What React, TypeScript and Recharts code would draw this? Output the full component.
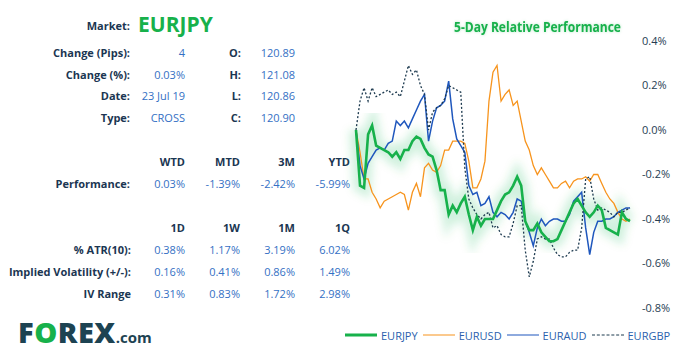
import { LineChart, Line, XAxis, YAxis } from "recharts";

// 5-day relative performance (%), sampled left to right
const EURJPY = [
  0, -0.25, -0.26, -0.02, 0.02, -0.07, -0.08, -0.09, -0.1, -0.12,
  -0.1, -0.13, -0.09, -0.09, -0.05, -0.03, -0.04, -0.08, -0.11, -0.12,
  -0.18, -0.27, -0.27, -0.38, -0.34, -0.37, -0.33, -0.3, -0.38, -0.45,
  -0.39, -0.43, -0.4, -0.4, -0.4, -0.36, -0.32, -0.29, -0.28, -0.25,
  -0.21, -0.25, -0.41, -0.45, -0.45, -0.42, -0.46, -0.48, -0.5, -0.5,
  -0.49, -0.45, -0.41, -0.37, -0.33, -0.31, -0.34, -0.37, -0.39, -0.37,
  -0.34, -0.36, -0.44, -0.45, -0.46, -0.47, -0.37, -0.4, -0.41,
];
const EURUSD = [
  0, -0.1, -0.22, -0.22, -0.28, -0.31, -0.35, -0.32, -0.31, -0.3,
  -0.29, -0.28, -0.29, -0.36, -0.28, -0.24, -0.3, -0.17, -0.15, -0.18,
  -0.19, -0.16, -0.09, -0.09, -0.05, -0.05, -0.05, -0.06, -0.14, -0.26,
  -0.26, -0.22, -0.14, 0.13, 0.26, 0.29, 0.13, 0.16, 0.18, 0.11,
  0.13, 0.04, -0.05, -0.09, -0.16, -0.2, -0.17, -0.2, -0.23, -0.26,
  -0.26, -0.24, -0.23, -0.26, -0.23, -0.22, -0.22, -0.21, -0.23, -0.2,
  -0.2, -0.24, -0.28, -0.31, -0.33, -0.37, -0.4, -0.41, -0.4,
];
const EURAUD = [
  0, -0.16, -0.22, -0.15, -0.12, -0.09, -0.08, -0.09, -0.06, -0.05,
  0.04, 0.02, 0.04, 0.01, 0.05, 0.09, 0.13, 0.16, -0.05, 0.04,
  0.1, 0.11, 0.13, 0.22, 0.05, -0.04, -0.07, -0.1, -0.25, -0.29,
  -0.28, -0.34, -0.33, -0.3, -0.37, -0.39, -0.37, -0.38, -0.4, -0.37,
  -0.31, -0.32, -0.41, -0.46, -0.52, -0.44, -0.4, -0.43, -0.41, -0.4,
  -0.4, -0.41, -0.41, -0.38, -0.32, -0.3, -0.28, -0.44, -0.56, -0.46,
  -0.41, -0.41, -0.4, -0.4, -0.39, -0.37, -0.36, -0.35, -0.35,
];
const EURGBP = [
  0, 0.13, 0.19, 0.13, 0.19, 0.15, 0.16, 0.17, 0.18, 0.16,
  0.17, 0.15, 0.22, 0.29, 0.25, 0.27, 0.2, 0.16, 0.0, 0.08,
  0.1, 0.11, 0.14, 0.2, 0.19, 0.18, 0.17, -0.17, -0.31, -0.35,
  -0.38, -0.4, -0.38, -0.37, -0.44, -0.43, -0.47, -0.48, -0.48, -0.42,
  -0.34, -0.34, -0.54, -0.66, -0.59, -0.49, -0.48, -0.49, -0.49, -0.53,
  -0.56, -0.57, -0.57, -0.55, -0.54, -0.54, -0.44, -0.22, -0.21, -0.31,
  -0.36, -0.35, -0.36, -0.37, -0.39, -0.37, -0.37, -0.36, -0.35,
];
const Y_TICKS = [0.4, 0.2, 0, -0.2, -0.4, -0.6, -0.8];

const INFO_ROWS = [
  ["Change (Pips):", "4", "O:", "120.89"],
  ["Change (%):", "0.03%", "H:", "121.08"],
  ["Date:", "23 Jul 19", "L:", "120.86"],
  ["Type:", "CROSS", "C:", "120.90"],
];
const PERF_HEADERS = ["WTD", "MTD", "3M", "YTD"];
const PERF_VALUES = ["0.03%", "-1.39%", "-2.42%", "-5.99%"];
const VOL_HEADERS = ["1D", "1W", "1M", "1Q"];
const VOL_ROWS = [
  ["% ATR(10):", "0.38%", "1.17%", "3.19%", "6.02%"],
  ["Implied Volatility (+/-):", "0.16%", "0.41%", "0.86%", "1.49%"],
  ["IV Range", "0.31%", "0.83%", "1.72%", "2.98%"],
];

const GREEN = "#17b14b";
const ORANGE = "#f7941d";
const BLUE = "#1f57bd";
const DARK = "#1d3a4f";
const LABEL = "#1b3652";
const VALUE = "#3470c4";
const W = 679;
const H = 360;

const data = EURJPY.map((v, i) => ({
  i,
  EURJPY: v,
  EURUSD: EURUSD[i],
  EURAUD: EURAUD[i],
  EURGBP: EURGBP[i],
}));

function T({ x, y, children, bold, color, size = 11, left }: any) {
  const pos = left ? { left: x } : { right: W - x };
  return (
    <div
      style={{
        position: "absolute",
        top: y,
        ...pos,
        transform: "translateY(-50%)",
        fontSize: size,
        fontWeight: bold ? 700 : 400,
        color: color ?? (bold ? LABEL : VALUE),
        lineHeight: 1,
        whiteSpace: "nowrap",
      }}
    >
      {children}
    </div>
  );
}

const COLS = [185, 240, 295, 350];

const LEGEND = [
  { name: "EURJPY", color: GREEN, width: 3, dash: false },
  { name: "EURUSD", color: ORANGE, width: 1.5, dash: false },
  { name: "EURAUD", color: BLUE, width: 1.5, dash: false },
  { name: "EURGBP", color: DARK, width: 1, dash: true },
];

export default function App() {
  return (
    <div
      style={{
        position: "absolute",
        left: 0,
        top: 0,
        width: W,
        height: H,
        background: "#fff",
        fontFamily: "'Open Sans', sans-serif",
        overflow: "hidden",
      }}
    >
      <T x={130} y={25} bold>Market:</T>
      <T x={138} y={24} left bold size={21} color={GREEN}>EURJPY</T>
      {INFO_ROWS.map((r, k) => (
        <div key={r[0]}>
          <T x={130} y={52 + k * 21.7} bold>{r[0]}</T>
          <T x={185} y={52 + k * 21.7}>{r[1]}</T>
          <T x={241} y={52 + k * 21.7} bold>{r[2]}</T>
          <T x={295} y={52 + k * 21.7}>{r[3]}</T>
        </div>
      ))}

      {PERF_HEADERS.map((h, k) => (
        <T key={h} x={COLS[k]} y={161} bold>{h}</T>
      ))}
      <T x={130} y={183} bold>Performance:</T>
      {PERF_VALUES.map((v, k) => (
        <T key={k} x={COLS[k]} y={183}>{v}</T>
      ))}

      {VOL_HEADERS.map((h, k) => (
        <T key={h} x={COLS[k]} y={227} bold>{h}</T>
      ))}
      {VOL_ROWS.map((r, j) => (
        <div key={r[0]}>
          <T x={131} y={249 + j * 22} bold>{r[0]}</T>
          {r.slice(1).map((v, k) => (
            <T key={k} x={COLS[k]} y={249 + j * 22}>{v}</T>
          ))}
        </div>
      ))}

      <div
        style={{
          position: "absolute",
          left: 18,
          top: 317,
          fontSize: 29,
          fontWeight: 800,
          color: "#1d4352",
          letterSpacing: 0.5,
          lineHeight: 1,
        }}
      >
        F<span style={{ color: GREEN }}>O</span>REX
        <span style={{ fontSize: 15, fontWeight: 700, letterSpacing: 0 }}>.com</span>
      </div>

      <div
        style={{
          position: "absolute",
          left: 454,
          top: 18,
          transform: "scaleX(0.86)",
          transformOrigin: "left center",
          fontSize: 14,
          lineHeight: "18px",
          fontWeight: 700,
          color: GREEN,
          textShadow: "0 0 3px rgba(23,177,75,0.35)",
          whiteSpace: "nowrap",
        }}
      >
        5-Day Relative Performance
      </div>

      <div style={{ position: "absolute", left: 0, top: 0 }}>
        <LineChart
          width={W}
          height={H}
          data={data}
          margin={{ top: 41, right: 0, bottom: 52, left: 356 }}
        >
          <defs>
            <filter id="glow" x="-10%" y="-10%" width="120%" height="120%">
              <feGaussianBlur stdDeviation="4" />
            </filter>
          </defs>
          <XAxis dataKey="i" type="number" domain={[0, 68]} hide />
          <YAxis
            orientation="right"
            width={49}
            domain={[-0.8, 0.4]}
            ticks={Y_TICKS}
            axisLine={false}
            tickLine={false}
            tickSize={6}
            tickMargin={6}
            interval={0}
            tick={{ fontSize: 11, fill: "#263d52", textAnchor: "start" }}
            tickFormatter={(v: number) => v.toFixed(1) + "%"}
          />
          <Line
            dataKey="EURJPY"
            stroke={GREEN}
            strokeOpacity={0.18}
            strokeWidth={14}
            filter="url(#glow)"
            dot={false}
            activeDot={false}
            legendType="none"
            isAnimationActive={false}
          />
          <Line dataKey="EURUSD" stroke={ORANGE} strokeWidth={1.3} dot={false} isAnimationActive={false} />
          <Line dataKey="EURAUD" stroke={BLUE} strokeWidth={1.5} dot={false} isAnimationActive={false} />
          <Line
            dataKey="EURGBP"
            stroke={DARK}
            strokeWidth={1.3}
            strokeDasharray="2 2"
            dot={false}
            isAnimationActive={false}
          />
          <Line dataKey="EURJPY" stroke={GREEN} strokeWidth={2.6} dot={false} isAnimationActive={false} />
        </LineChart>
      </div>

      <div
        style={{
          position: "absolute",
          left: 345,
          top: 335,
          transform: "translateY(-50%)",
          display: "flex",
          alignItems: "center",
          fontSize: 11,
          color: "#2b5fad",
          whiteSpace: "nowrap",
        }}
      >
        {LEGEND.map((l) => (
          <span key={l.name} style={{ display: "flex", alignItems: "center", marginRight: 5 }}>
            <span
              style={{
                display: "inline-block",
                width: 32,
                borderTop: `${l.width}px ${l.dash ? "dashed" : "solid"} ${l.color}`,
                marginRight: 4,
              }}
            />
            {l.name}
          </span>
        ))}
      </div>
    </div>
  );
}
